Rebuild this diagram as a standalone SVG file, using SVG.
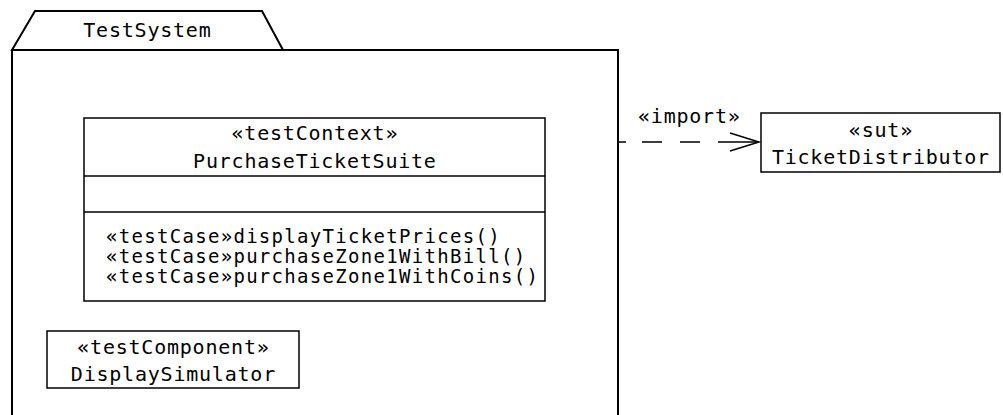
<svg xmlns="http://www.w3.org/2000/svg" width="1003" height="415" viewBox="0 0 1003 415">
<style>
text{font-family:"DejaVu Sans Mono","Liberation Mono",monospace;font-size:20px;letter-spacing:0.78px;fill:#000}
.c{text-anchor:middle}
.m{font-size:19px;letter-spacing:1.3px}
.box{fill:#fff;stroke:#000;stroke-width:1.5}
.pkg{fill:#fff;stroke:#000;stroke-width:2}
.ln{fill:none;stroke:#000;stroke-width:1.5}
</style>
<rect width="1003" height="415" fill="#fff"/>
<g id="TestSystem">
<path class="pkg" d="M12,50 L35,11 L262,11 L283,50 Z"/>
<path class="pkg" d="M12,420 L12,50 L618,50 L618,420"/>
<text class="c" x="147.4" y="37">TestSystem</text>
</g>
<g id="PurchaseTicketSuite">
<rect class="box" x="84" y="118" width="461" height="183"/>
<line class="ln" x1="84" y1="176" x2="545" y2="176"/>
<line class="ln" x1="84" y1="212" x2="545" y2="212"/>
<text class="c" x="314.9" y="140">«testContext»</text>
<text class="c" x="314.9" y="168">PurchaseTicketSuite</text>
<text class="m" x="106" y="243">«testCase»displayTicketPrices()</text>
<text class="m" x="106" y="263">«testCase»purchaseZone1WithBill()</text>
<text class="m" x="106" y="283">«testCase»purchaseZone1WithCoins()</text>
</g>
<g id="DisplaySimulator">
<rect class="box" x="47" y="331" width="252" height="57"/>
<text class="c" x="173.4" y="354">«testComponent»</text>
<text class="c" x="173.4" y="381">DisplaySimulator</text>
</g>
<g id="TicketDistributor">
<rect class="box" x="761" y="113" width="239" height="59"/>
<text class="c" x="880.9" y="137">«sut»</text>
<text class="c" x="880.9" y="164">TicketDistributor</text>
</g>
<g id="connectors">
<line class="ln" x1="618" y1="142" x2="759" y2="142" stroke-dasharray="8,16,20,18,20,18,42"/>
<polyline class="ln" points="730,133 759,142 730,151"/>
<text x="638" y="123">«import»</text>
</g>
</svg>
